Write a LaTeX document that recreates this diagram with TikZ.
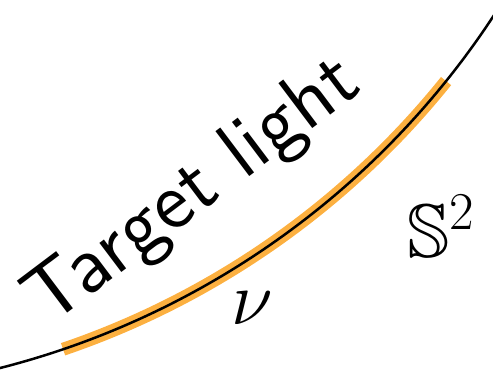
\RequirePackage{fix-cm}
\documentclass[tikz,border=0pt]{standalone}
\usepackage{amsmath}
\usepackage{amssymb}
\usepackage{fontspec}
\newfontfamily\labelfont{lmsans10-regular.otf}
\definecolor{lightband}{RGB}{252,176,64}

\begin{document}
\begin{tikzpicture}[
			x=1pt,y=1pt,
			sphere/.style={
				draw=black,
				line width=2.5pt
			},
			support/.style={
				draw=lightband,
				line width=13pt
			},
			caption/.style={
				font=\fontsize{81}{88}\selectfont\labelfont,
				inner sep=0pt
			},
			formula/.style={
				font=\fontsize{76}{80}\selectfont,
				inner sep=0pt
			}
			]
			\useasboundingbox (0,0) rectangle (493,378);
			\clip (0,0) rectangle (493,378);

			% centre of the big circle, outside the frame
			\coordinate (centre) at (-207,822);

			% support of the target light, then the sphere itself
			\draw[support] (centre) ++(-71.2:838)
				arc[start angle=-71.2,end angle=-38.8,radius=838];
			\draw[sphere] (centre) ++(-80:838)
				arc[start angle=-80,end angle=-25,radius=838];

			\node[caption,anchor=base west,rotate=37] (target) at (48,50) {Target light};
			\node[formula] (nu) at (252,70) {$\nu$};
			\node[formula,anchor=base west] (sphere) at (407,121) {$\mathbb{S}^2$};

\end{tikzpicture}
\end{document}
